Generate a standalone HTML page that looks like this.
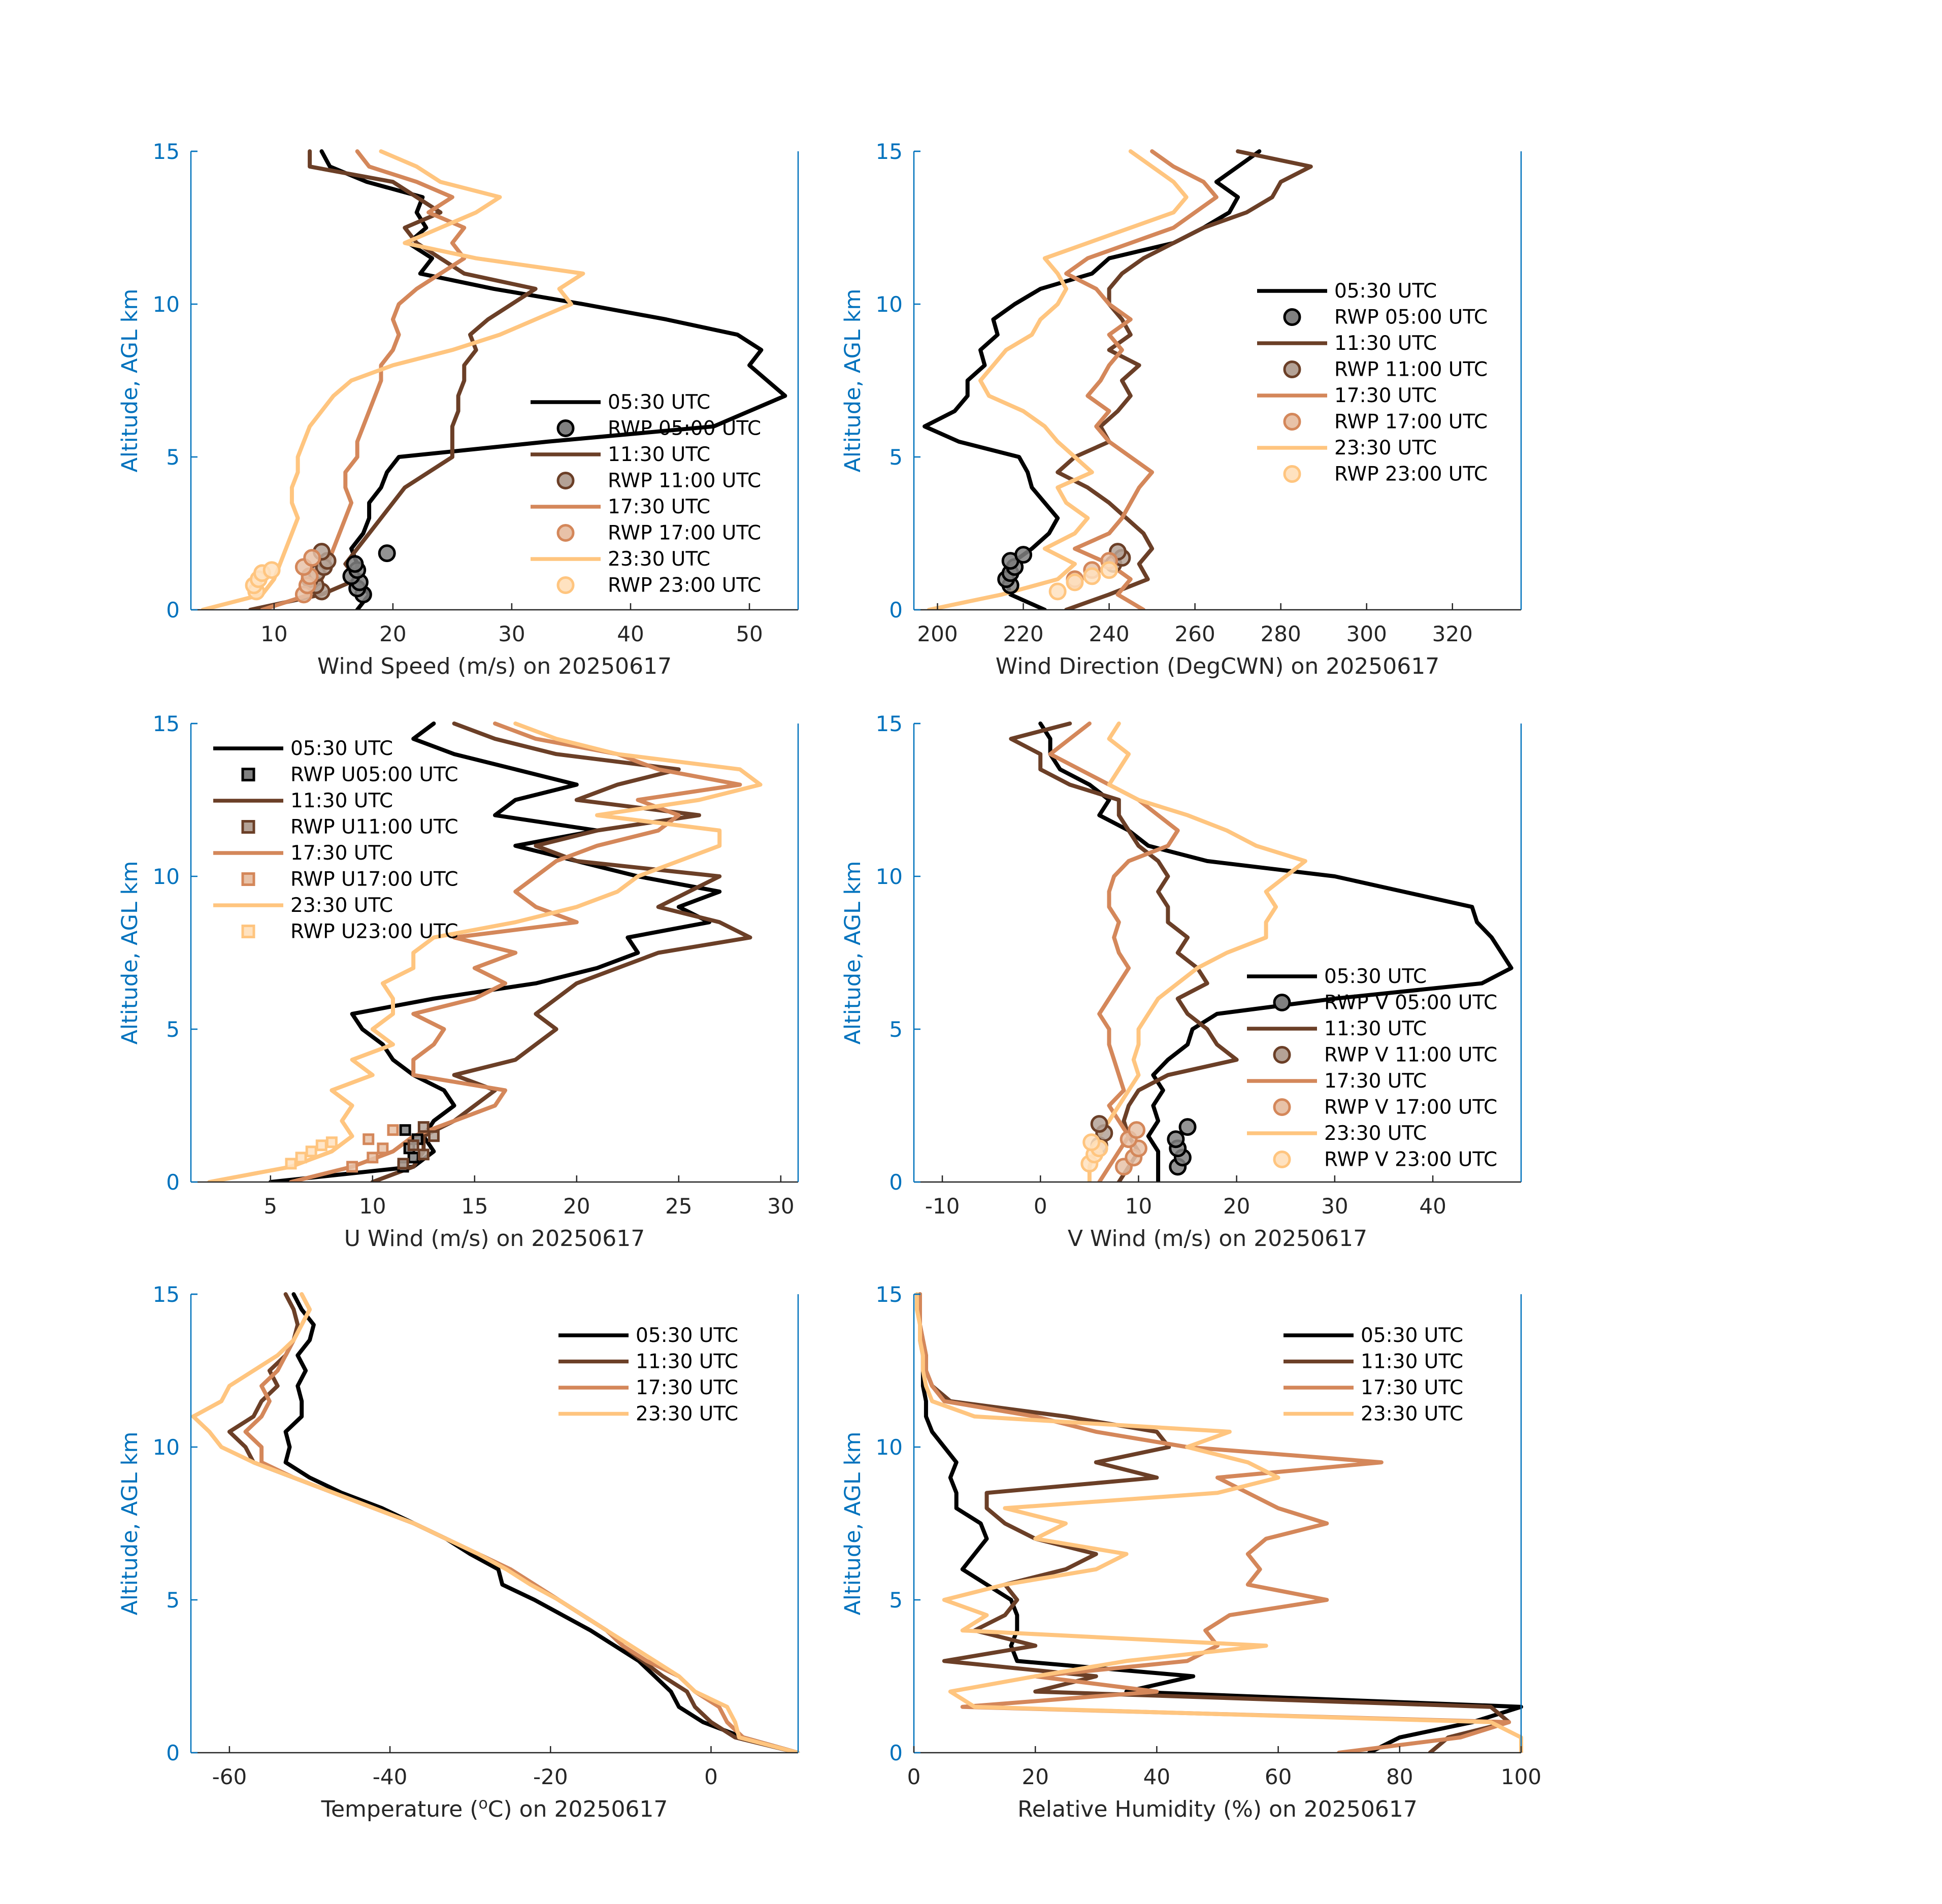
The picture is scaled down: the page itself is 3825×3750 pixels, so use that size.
<!DOCTYPE html>
<html><head><meta charset="utf-8">
<style>
html,body{margin:0;padding:0;background:#fff;}
svg{display:block;font-family:"DejaVu Sans","Liberation Sans",sans-serif;}
</style></head>
<body>
<svg id="fig" width="3825" height="3750" viewBox="0 0 3825 3750" xmlns="http://www.w3.org/2000/svg">
<rect x="0" y="0" width="3825" height="3750" fill="#fff"/>
</svg>
<script>
// ---- shared data ----
const altitudes = [0,0.5,1,1.5,2,2.5,3,3.5,4,4.5,5,5.5,6,6.5,7,7.5,8,8.5,9,9.5,10,10.5,11,11.5,12,12.5,13,13.5,14,14.5,15];
const yTicks = [0,5,10,15];
const seriesNames = ["05:30 UTC","11:30 UTC","17:30 UTC","23:30 UTC"];

// Wind speed (m/s)
const speed0530 = [17,18,17,17,16.5,17.5,18,18,19,19.5,20.5,33,47,50,53,51.5,50,51,49,43,36,28.5,22.3,23.3,21.3,22.8,22,22.5,17.8,14.7,14];
const speed1130 = [8,14,17,16,17,18,19,20,21,23,25,25,25,25.5,25.5,26,26,27,26.5,28,30,32,26,24,22,21,24,22,20,13,13];
const speed1730 = [9,13,14,14.5,15,15.5,16,16.5,16,16,17,17,17.5,18,18.5,19,19,20,20.5,20,20.5,22,24,26,25,26,23,25,22,18,17];
const speed2330 = [4,9,10,10.5,11,11.5,12,11.5,11.5,12,12,12.5,13,14,15,16.5,20,25,29,32,35,34,36,27,21,24,27,29,24,22,19];
const speedTicks = [10,20,30,40,50];
const rwpSpeed0500 = [[17.5,0.5],[17,0.7],[17.2,0.9],[16.5,1.1],[17,1.3],[16.8,1.5],[19.5,1.85]];
const rwpSpeed1100 = [[14,0.6],[13.5,0.8],[13,1.0],[13.6,1.2],[14.2,1.4],[14.5,1.6],[14,1.9]];
const rwpSpeed1700 = [[12.5,0.5],[12.8,0.8],[13,1.1],[12.5,1.4],[13.2,1.7]];
const rwpSpeed2300 = [[8.5,0.6],[8.3,0.8],[8.7,1.0],[9,1.2],[9.8,1.3]];

// Wind direction (deg)
const dir0530 = [225,217,216,217,222,226,228,225,222,221,219,205,197,204,207,207,211,210,214,213,218,224,236,240,255,262,268,270,265,270,275];
const dir1130 = [230,240,249,247,250,248,244,240,235,228,232,240,238,242,245,243,247,240,245,243,240,240,243,248,255,262,272,278,280,287,270];
const dir1730 = [248,242,245,240,232,240,243,245,247,250,245,240,237,240,235,238,240,243,240,245,240,237,230,235,245,255,260,265,262,255,250];
const dir2330 = [198,215,228,232,225,232,235,230,228,236,232,228,225,220,212,210,213,216,222,224,228,230,228,225,235,245,255,258,255,250,245];
const dirTicks = [200,220,240,260,280,300,320];
const rwpDir0500 = [[217,0.8],[216,1.0],[217,1.2],[218,1.4],[217,1.6],[220,1.8]];
const rwpDir1100 = [[241,1.5],[243,1.7],[242,1.9]];
const rwpDir1700 = [[232,1.0],[236,1.3],[240,1.6]];
const rwpDir2300 = [[228,0.6],[232,0.9],[236,1.1],[240,1.3]];

// U wind
const u0530 = [5,12,13,12.5,13,14,13.5,12,11,10.5,9.5,9,13,18,21,23,22.5,26.5,25,27,23,20,17,21,16,17,20,17,14,12,13];
const u1130 = [10,12,12.5,12.5,14,15,16,14,17,18,19,18,19,20,22,24,28.5,27,24,25.5,27,20,18,21,26,20,22,25,19,16,14];
const u1730 = [6,9,11,12,14,16,16.5,12,12,13,13.5,12,15,16.5,15,17,14,20,18,17,18,19,21,24,25,23,28,24,22,18,16];
const u2330 = [2,6,8,9,8.5,9,8,10,9,11,10,11,11,10.5,12,12,13,17,20,22,23,25,27,27,21,26,29,28,22,19,17];
const uTicks = [5,10,15,20,25,30];
const rwpU0500 = [[11.5,0.5],[12,0.8],[11.8,1.1],[12.2,1.4],[11.6,1.7]];
const rwpU1100 = [[11.5,0.6],[12.5,0.9],[12,1.2],[13,1.5],[12.5,1.8]];
const rwpU1700 = [[9,0.5],[10,0.8],[10.5,1.1],[9.8,1.4],[11,1.7]];
const rwpU2300 = [[6,0.6],[6.5,0.8],[7,1.0],[7.5,1.2],[8,1.3]];

// V wind
const v0530 = [12,12,12,11,12,11.5,12.5,11.5,13,15,15.5,18,30,45,48,47,46,44.5,44,37,30,17,11,9,6,7,5,2,1,1,0];
const v1130 = [8,9,10,9,8.5,9,10,13,20,18,17,15,14,17,16,14,15,13,13,12,13,12,10,9,8,8,3,0,0,-3,3];
const v1730 = [6,7,8,9,8,7,8.5,8,7.5,7,7,6,7,8,9,8,7.5,8,7,7,7.5,9,13,14,12,10,7,4,1,3,5];
const v2330 = [5,5,5.5,6,7,8,9,10,9.5,10,10,11,12,14,16,19,23,23,24,23,25,27,22,19,15,10,7,8,9,7,8];
const vTicks = [-10,0,10,20,30,40];
const rwpV0500 = [[14,0.5],[14.5,0.8],[14,1.1],[13.8,1.4],[15,1.8]];
const rwpV1100 = [[6,1.2],[6.5,1.6],[6,1.9]];
const rwpV1700 = [[8.5,0.5],[9.5,0.8],[10,1.1],[9,1.4],[9.8,1.7]];
const rwpV2300 = [[5,0.6],[5.5,0.9],[6,1.1],[5.2,1.3]];

// Temperature
const t0530 = [10.8,4,-1,-4,-5,-7,-9,-12,-15,-18.5,-22,-26,-26.5,-30,-33,-37,-41,-46,-50,-53,-52.5,-53,-51,-51,-51.5,-50.5,-51.5,-50,-49.5,-51,-52];
const t1130 = [10.8,3,0,-2,-3,-6,-8.5,-11,-13,-16,-19,-22,-25,-29,-33,-37,-42,-47,-52,-57,-58,-60,-57,-56,-54,-55,-53,-52,-51.5,-52,-53];
const t1730 = [10.8,4,2,1,-2,-4,-8,-11,-13,-16,-19,-22,-25,-29,-33,-37,-42,-47,-52,-56,-56,-58,-56,-55,-56,-54,-53,-52,-51,-50,-51];
const t2330 = [10.8,3.5,3,2,-2,-4,-7,-10,-13,-16,-19,-22.5,-25.5,-29,-33,-37,-42,-47,-52,-57,-61,-62.5,-64.5,-61,-60,-57,-54,-52,-51,-50,-51];
const tTicks = [-60,-40,-20,0];

// Relative humidity
const rh0530 = [75,80,92,100,35,46,17,16,17,17,16,12,8,10,12,11,7,7,6,7,5,3,2,2,1.5,1.5,1.5,1,1,1,1];
const rh1130 = [85,88,98,95,20,30,5,20,10,15,17,15,25,30,20,15,12,12,40,30,42,40,25,6,3,2,2,1.5,1,1,1];
const rh1730 = [70,90,98,8,40,20,45,50,48,52,68,55,57,55,58,68,60,55,50,77,45,30,20,5,3,2,2,1.5,1,1,1];
const rh2330 = [100,100,95,10,6,20,35,58,8,12,5,15,30,35,20,25,15,50,60,55,45,52,10,3,2,1.5,1.5,1,1,0.5,0.5];
const rhTicks = [0,20,40,60,80,100];
</script>
<script>
const svg = document.getElementById('fig');
const NS = 'http://www.w3.org/2000/svg';
const COLORS = ['#000000','#6b3f27','#d4875a','#ffc57f'];
const FILLS = ['#808080','#b4a296','#e8c2a8','#ffe2c0'];
const BLUE = '#0072bd';
const GRAY = '#262626';

function mk(tag, attrs, parent) {
  const e = document.createElementNS(NS, tag);
  for (const k in attrs) e.setAttribute(k, attrs[k]);
  (parent || svg).appendChild(e);
  return e;
}

function panel(cfg) {
  const g = mk('g', {});
  
  
  const L = cfg.x0, R = cfg.x0 + cfg.w, T = cfg.y0, B = cfg.y0 + cfg.h;
  const sx = v => L + (v - cfg.xlim[0]) / (cfg.xlim[1] - cfg.xlim[0]) * cfg.w;
  const sy = v => B - v / 15 * cfg.h;

  const cid = 'clip-' + cfg.name;
  const cp = mk('clipPath', {id: cid}, g);
  mk('rect', {x: L, y: T - 10, width: cfg.w + 12, height: cfg.h + 10}, cp);
  const plot = mk('g', {'clip-path': 'url(#' + cid + ')'}, g);

  cfg.series.forEach((s, i) => {
    const pts = s.map((v, j) => sx(v).toFixed(1) + ',' + sy(altitudes[j]).toFixed(1)).join(' ');
    const pl = mk('polyline', {points: pts, fill: 'none', stroke: COLORS[i], 'stroke-width': 8, 'stroke-linejoin': 'round', 'stroke-linecap': 'round'}, plot);
    
    
  });
  if (cfg.rwp) {
    cfg.rwp.forEach((arr, i) => {
      arr.forEach(p => {
        let m;
        if (cfg.marker === 'square') {
          m = mk('rect', {x: sx(p[0]) - 9, y: sy(p[1]) - 9, width: 18, height: 18, fill: FILLS[i], stroke: COLORS[i], 'stroke-width': 5, 'fill-opacity': 0.85}, plot);
        } else {
          m = mk('circle', {cx: sx(p[0]), cy: sy(p[1]), r: 15, fill: FILLS[i], stroke: COLORS[i], 'stroke-width': 5, 'fill-opacity': 0.85}, plot);
        }
        
        
      });
    });
  }

  mk('line', {x1: L, y1: B, x2: R, y2: B, stroke: GRAY, 'stroke-width': 2.5}, g);
  mk('line', {x1: L, y1: T, x2: L, y2: B, stroke: BLUE, 'stroke-width': 2.5}, g);
  mk('line', {x1: R, y1: T, x2: R, y2: B, stroke: BLUE, 'stroke-width': 2.5}, g);
  mk('line', {x1: L, y1: T, x2: L + 13, y2: T, stroke: BLUE, 'stroke-width': 2.5}, g);
  yTicks.forEach(t => {
    mk('line', {x1: L, y1: sy(t), x2: L + 13, y2: sy(t), stroke: BLUE, 'stroke-width': 2.5}, g);
    const tx = mk('text', {x: L - 22, y: sy(t) + 15, 'text-anchor': 'end', 'font-size': 42, fill: BLUE}, g);
    tx.textContent = t;
    
    
  });
  cfg.xticks.forEach(t => {
    mk('line', {x1: sx(t), y1: B, x2: sx(t), y2: B - 13, stroke: GRAY, 'stroke-width': 2.5}, g);
    const tx = mk('text', {x: sx(t), y: B + 62, 'text-anchor': 'middle', 'font-size': 42, fill: GRAY}, g);
    tx.textContent = t;
    
    
  });
  const yl = mk('text', {x: 0, y: 0, transform: 'translate(' + (L - 106) + ',' + ((T + B) / 2) + ') rotate(-90)', 'text-anchor': 'middle', 'font-size': 43, fill: BLUE}, g);
  yl.textContent = 'Altitude, AGL km';
  
  
  const xl = mk('text', {x: (L + R) / 2, y: B + 126, 'text-anchor': 'middle', 'font-size': 44, fill: GRAY}, g);
  xl.innerHTML = cfg.xlabel;
  
  

  const lg = mk('g', {}, g);
  
  
  let y = cfg.leg[1];
  const lx = cfg.leg[0];
  for (let i = 0; i < 4; i++) {
    mk('line', {x1: lx, y1: y, x2: lx + 138, y2: y, stroke: COLORS[i], 'stroke-width': 7.5}, lg);
    const t = mk('text', {x: lx + 152, y: y + 13, 'font-size': 39, fill: '#000'}, lg);
    t.textContent = seriesNames[i];
    
    
    y += 51.5;
    if (cfg.rwpNames) {
      if (cfg.marker === 'square') mk('rect', {x: lx + 58, y: y - 11, width: 22, height: 22, fill: FILLS[i], stroke: COLORS[i], 'stroke-width': 5}, lg);
      else mk('circle', {cx: lx + 69, cy: y, r: 15, fill: FILLS[i], stroke: COLORS[i], 'stroke-width': 5}, lg);
      const t2 = mk('text', {x: lx + 152, y: y + 13, 'font-size': 39, fill: '#000'}, lg);
      t2.textContent = cfg.rwpNames[i];
      
      
      y += 51.5;
    }
  }
}

const W = 1196, H = 903;
const rwpN = ['RWP 05:00 UTC','RWP 11:00 UTC','RWP 17:00 UTC','RWP 23:00 UTC'];
panel({name:'wind-speed-panel', x0:376, y0:298, w:W, h:H, xlim:[3,54.1], xticks:speedTicks,
  series:[speed0530,speed1130,speed1730,speed2330], rwp:[rwpSpeed0500,rwpSpeed1100,rwpSpeed1700,rwpSpeed2300],
  rwpNames:rwpN, xlabel:'Wind Speed (m/s) on 20250617', leg:[1045,792]});
panel({name:'wind-direction-panel', x0:1800, y0:298, w:W, h:H, xlim:[194.5,336], xticks:dirTicks,
  series:[dir0530,dir1130,dir1730,dir2330], rwp:[rwpDir0500,rwpDir1100,rwpDir1700,rwpDir2300],
  rwpNames:rwpN, xlabel:'Wind Direction (DegCWN) on 20250617', leg:[2476,573]});
panel({name:'u-wind-panel', x0:376, y0:1425, w:W, h:H, xlim:[1.1,30.85], xticks:uTicks,
  series:[u0530,u1130,u1730,u2330], rwp:[rwpU0500,rwpU1100,rwpU1700,rwpU2300], marker:'square',
  rwpNames:['RWP U05:00 UTC','RWP U11:00 UTC','RWP U17:00 UTC','RWP U23:00 UTC'],
  xlabel:'U Wind (m/s) on 20250617', leg:[420,1474]});
panel({name:'v-wind-panel', x0:1800, y0:1425, w:W, h:H, xlim:[-12.9,49], xticks:vTicks,
  series:[v0530,v1130,v1730,v2330], rwp:[rwpV0500,rwpV1100,rwpV1700,rwpV2300],
  rwpNames:['RWP V 05:00 UTC','RWP V 11:00 UTC','RWP V 17:00 UTC','RWP V 23:00 UTC'],
  xlabel:'V Wind (m/s) on 20250617', leg:[2456,1923]});
panel({name:'temperature-panel', x0:376, y0:2549, w:W, h:H, xlim:[-64.8,10.85], xticks:tTicks,
  series:[t0530,t1130,t1730,t2330], xlabel:'Temperature (<tspan dy="-16" font-size="30">o</tspan><tspan dy="16">C) on 20250617</tspan>', leg:[1100,2630]});
panel({name:'relative-humidity-panel', x0:1800, y0:2549, w:W, h:H, xlim:[0,100], xticks:rhTicks,
  series:[rh0530,rh1130,rh1730,rh2330], xlabel:'Relative Humidity (%) on 20250617', leg:[2528,2630]});
</script>
</body></html>
